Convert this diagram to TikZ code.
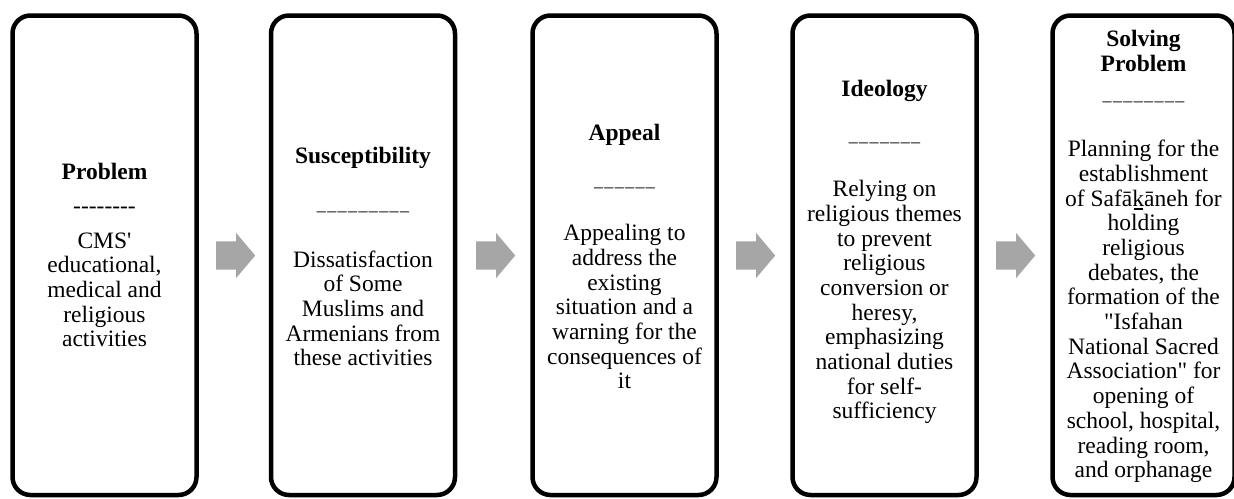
\documentclass[tikz,border=0pt]{standalone}
\usepackage{fontspec}
\setmainfont{Liberation Serif}[Ligatures=TeXOff]
\usetikzlibrary{shapes.arrows}
\definecolor{arrowgray}{HTML}{A6A6A6}
\newcommand\kline{\rlap{\kern1.5pt\rule[-3.5pt]{9pt}{1.1pt}}k}
\newcommand\lines[1]{\begin{tabular}{@{}c@{}}#1\end{tabular}}
\newcommand\us{\_\kern1.4pt}
\begin{document}
\begin{tikzpicture}[x=1pt,y=-1pt,
  stagebox/.style={draw=black,line width=4.5pt,rounded corners=18pt,minimum width=184pt,minimum height=479.5pt,inner sep=0pt},
  txt/.style={inner sep=0pt,font=\fontsize{23.5pt}{24.7pt}\selectfont},
  ttl/.style={inner sep=0pt,font=\fontsize{23.5pt}{24.7pt}\selectfont\bfseries},
  sepline/.style={inner sep=0pt,anchor=base,font=\fontsize{18pt}{24.7pt}\selectfont},
  flow/.style={single arrow,anchor=tail,fill=arrowgray,draw=none,inner xsep=0pt,inner ysep=14pt,minimum height=39pt,single arrow head extend=8.5pt,single arrow tip angle=99.6}
]
\useasboundingbox (0,0) rectangle (1234,498);
% boxes
\node[stagebox] (b1) at (104.5,255.25) {};
\node[stagebox] (b2) at (363,255.25) {};
\node[stagebox] (b3) at (624.5,255.25) {};
\node[stagebox] (b4) at (884.5,255.25) {};
\node[stagebox,minimum width=182pt] (b5) at (1143.5,255.25) {};
% arrows
\node[flow] (a1) at (216,255.5) {};
\node[flow] (a2) at (476,255.5) {};
\node[flow] (a3) at (736,255.5) {};
\node[flow] (a4) at (996,255.5) {};
% box 1
\node[ttl,anchor=base] (t1) at (104.5,179) {Problem};
\node[sepline,font=\fontsize{23.5pt}{24.7pt}\selectfont] (r1) at (104.5,213.5) {--------};
\node[txt] (d1) at (104.5,292.5) {\lines{CMS'\\educational,\\medical and\\religious\\activities}};
% box 2
\node[ttl,anchor=base] (t2) at (363,163) {Susceptibility};
\node[sepline] (r2) at (363,210) {\us\us\us\us\us\us\us\us\_};
\node[txt] (d2) at (363,311.5) {\lines{Dissatisfaction\\of Some\\Muslims and\\Armenians from\\these activities}};
% box 3
\node[ttl,anchor=base] (t3) at (624.5,140) {Appeal};
\node[sepline] (r3) at (624.5,186) {\us\us\us\us\us\_};
\node[txt] (d3) at (624.5,309.9) {\lines{Appealing to\\address the\\existing\\situation and a\\warning for the\\consequences of\\it}};
% box 4
\node[ttl,anchor=base] (t4) at (884.5,96) {Ideology};
\node[sepline] (r4) at (884.5,141) {\us\us\us\us\us\us\_};
\node[txt] (d4) at (884.5,302.9) {\lines{Relying on\\religious themes\\to prevent\\religious\\conversion or\\heresy,\\emphasizing\\national duties\\for self-\\sufficiency}};
% box 5
\node[ttl] (t5) at (1143.5,54.1) {\lines{Solving\\Problem}};
\node[sepline] (r5) at (1143.5,100) {\us\us\us\us\us\us\us\_};
\node[txt] (d5) at (1143.5,312.3) {\lines{Planning for the\\establishment\\of Safā\kline āneh for\\holding\\religious\\debates, the\\formation of the\\"Isfahan\\National Sacred\\Association" for\\opening of\\school, hospital,\\reading room,\\and orphanage}};
\end{tikzpicture}
\end{document}
